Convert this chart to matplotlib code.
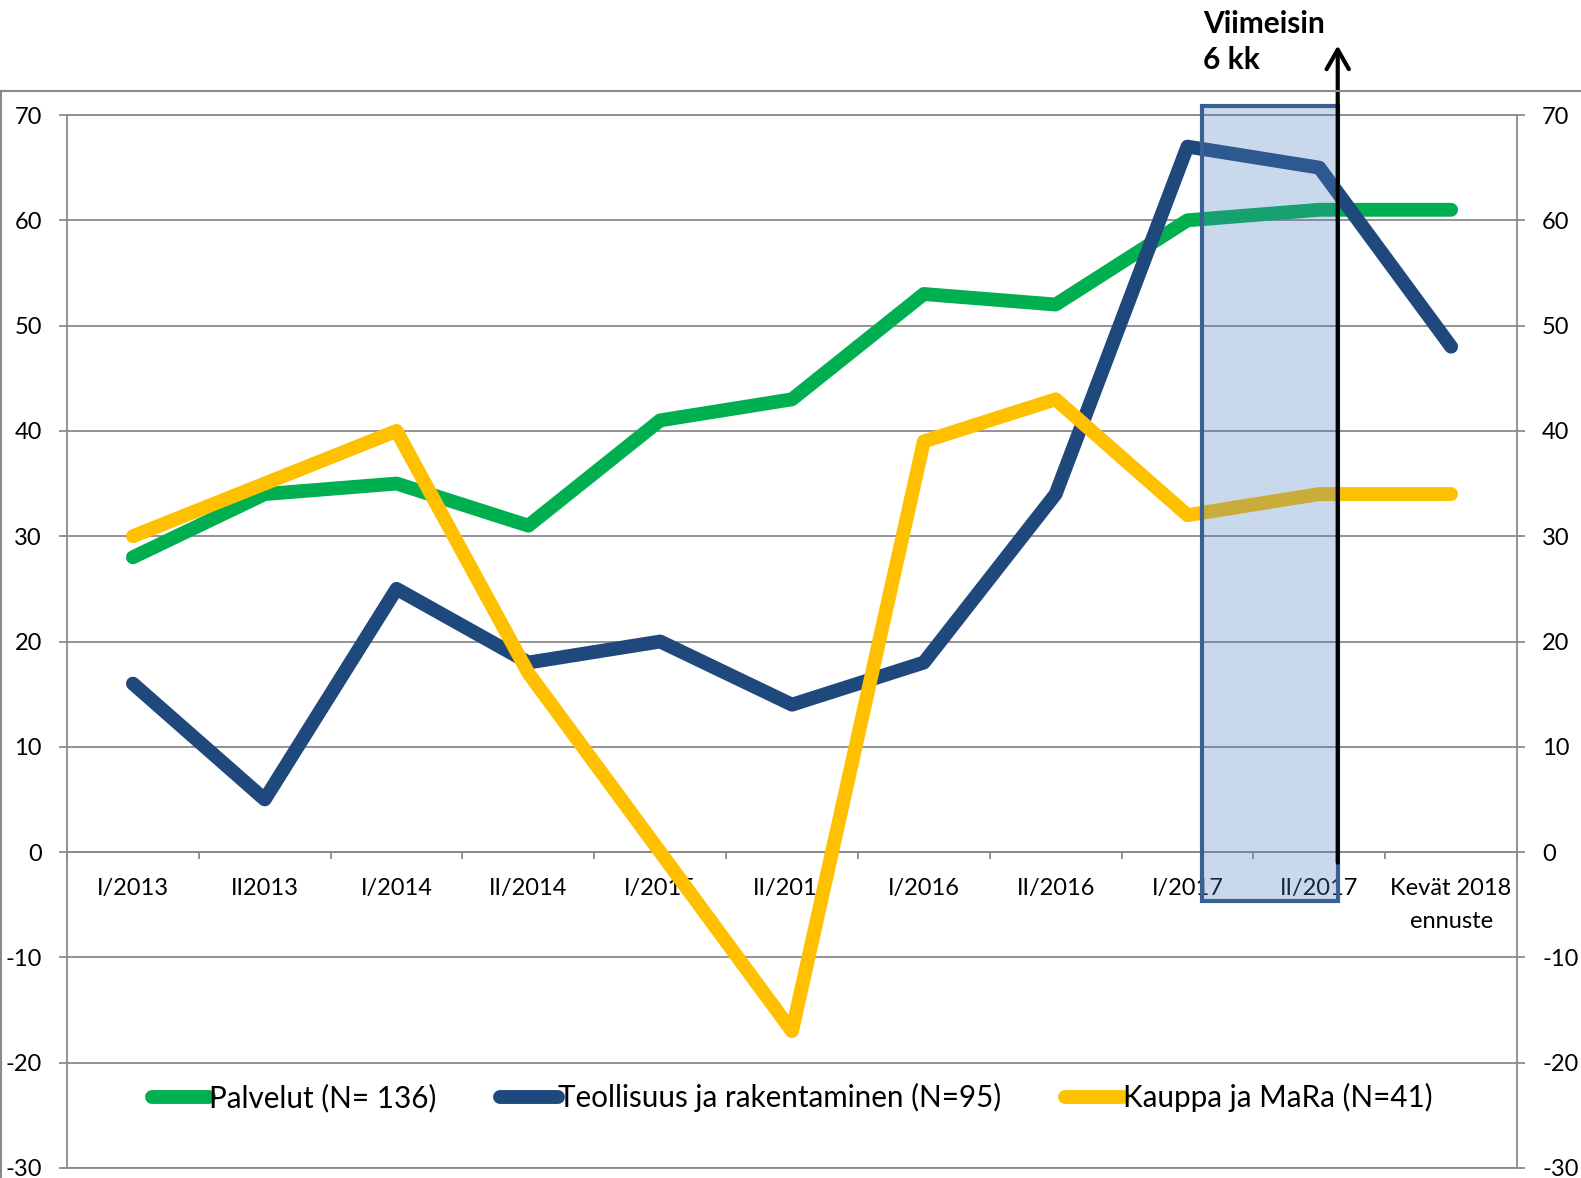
import matplotlib
matplotlib.use("Agg")
import matplotlib.pyplot as plt
from matplotlib.patches import Rectangle
from matplotlib.lines import Line2D
import numpy as np

plt.rcParams['font.family'] = ['Lato', 'DejaVu Sans']
plt.rcParams['axes.unicode_minus'] = False

# data
categories = ['I/2013', 'II2013', 'I/2014', 'II/2014', 'I/2015', 'II/2015',
              'I/2016', 'II/2016', 'I/2017', 'II/2017', 'Kevät 2018\nennuste']
palvelut = [28, 34, 35, 31, 41, 43, 53, 52, 60, 61, 61]
teollisuus = [16, 5, 25, 18, 20, 14, 18, 34, 67, 65, 48]
kauppa = [30, 35, 40, 17, 0, -17, 39, 43, 32, 34, 34]
series_labels = ['Palvelut (N= 136)', 'Teollisuus ja rakentaminen (N=95)', 'Kauppa ja MaRa (N=41)']
series_colors = ['#00B050', '#1F497D', '#FFC000']

grid_col = '#8A8A8A'

fig = plt.figure(figsize=(15.81, 11.78), dpi=100)
ax = fig.add_axes([67 / 1581, 1 - 1168 / 1178, 1450 / 1581, 1053 / 1178])

x = np.arange(len(categories)) + 0.5
for vals, lab, col in zip([palvelut, teollisuus, kauppa], series_labels, series_colors):
    ax.plot(x, vals, color=col, lw=10, label=lab,
            solid_capstyle='round', solid_joinstyle='round', zorder=3)

ax.set_xlim(0, len(categories))
ax.set_ylim(-30, 70)
ax.set_yticks(np.arange(-30, 71, 10))
ax.yaxis.grid(True, color=grid_col, lw=1.3)
ax.axhline(-30, color=grid_col, lw=1.3, clip_on=False, zorder=1)
ax.axhline(70, color=grid_col, lw=1.3, clip_on=False, zorder=1)
ax.set_axisbelow(True)

# x axis crosses at zero
ax.spines['bottom'].set_position(('data', 0))
ax.spines['top'].set_visible(False)
for s in ['left', 'right', 'bottom']:
    ax.spines[s].set_color(grid_col)
    ax.spines[s].set_linewidth(1.3)

ax.set_xticks(np.arange(0, len(categories) + 1))
ax.set_xticklabels([])
ax.set_xticks(x, minor=True)
ax.set_xticklabels(categories, minor=True, fontsize=17, linespacing=1.7)
ax.tick_params(axis='x', which='major', direction='out', length=5, width=1.3, color=grid_col)
ax.tick_params(axis='x', which='minor', length=0, pad=19)
ax.tick_params(axis='y', which='major', direction='out', length=6, width=1.3, color=grid_col,
               left=True, right=True, labelleft=True, labelright=True, labelsize=17, pad=12)

# highlighted period box
box_x0, box_x1 = 8.61, 9.64
box_y0, box_y1 = -4.6, 70.9
ax.add_patch(Rectangle((box_x0, box_y0), box_x1 - box_x0, box_y1 - box_y0,
                       facecolor='#4F81BD', alpha=0.3, edgecolor='none', zorder=4, clip_on=False))
ax.add_patch(Rectangle((box_x0, box_y0), box_x1 - box_x0, box_y1 - box_y0,
                       facecolor='none', edgecolor='#3A6092', lw=3, zorder=5, clip_on=False))

ax.annotate('', xy=(box_x1, 76.6), xytext=(box_x1, -1),
            arrowprops=dict(arrowstyle='->,head_width=0.4,head_length=0.7', lw=3,
                            color='black', mutation_scale=20, shrinkA=0, shrinkB=0),
            annotation_clip=False, zorder=6)

fig.text(1203 / 1581, 1 - 10 / 1178, 'Viimeisin\n6 kk', fontsize=21.5, fontweight='bold',
         ha='left', va='top', linespacing=1.35)

leg = ax.legend(loc='center', bbox_to_anchor=(0.5, 0.067), ncol=3, frameon=False,
                fontsize=21.3, handlelength=1.95, handletextpad=0, columnspacing=2.15)

# outer chart border
fig.add_artist(Line2D([0.0, 1.0], [1 - 91 / 1178] * 2, color=grid_col, lw=1.5, transform=fig.transFigure))
fig.add_artist(Line2D([1 / 1581] * 2, [0.0, 1 - 91 / 1178], color=grid_col, lw=1.5, transform=fig.transFigure))

fig.savefig('out.png', dpi=100)
